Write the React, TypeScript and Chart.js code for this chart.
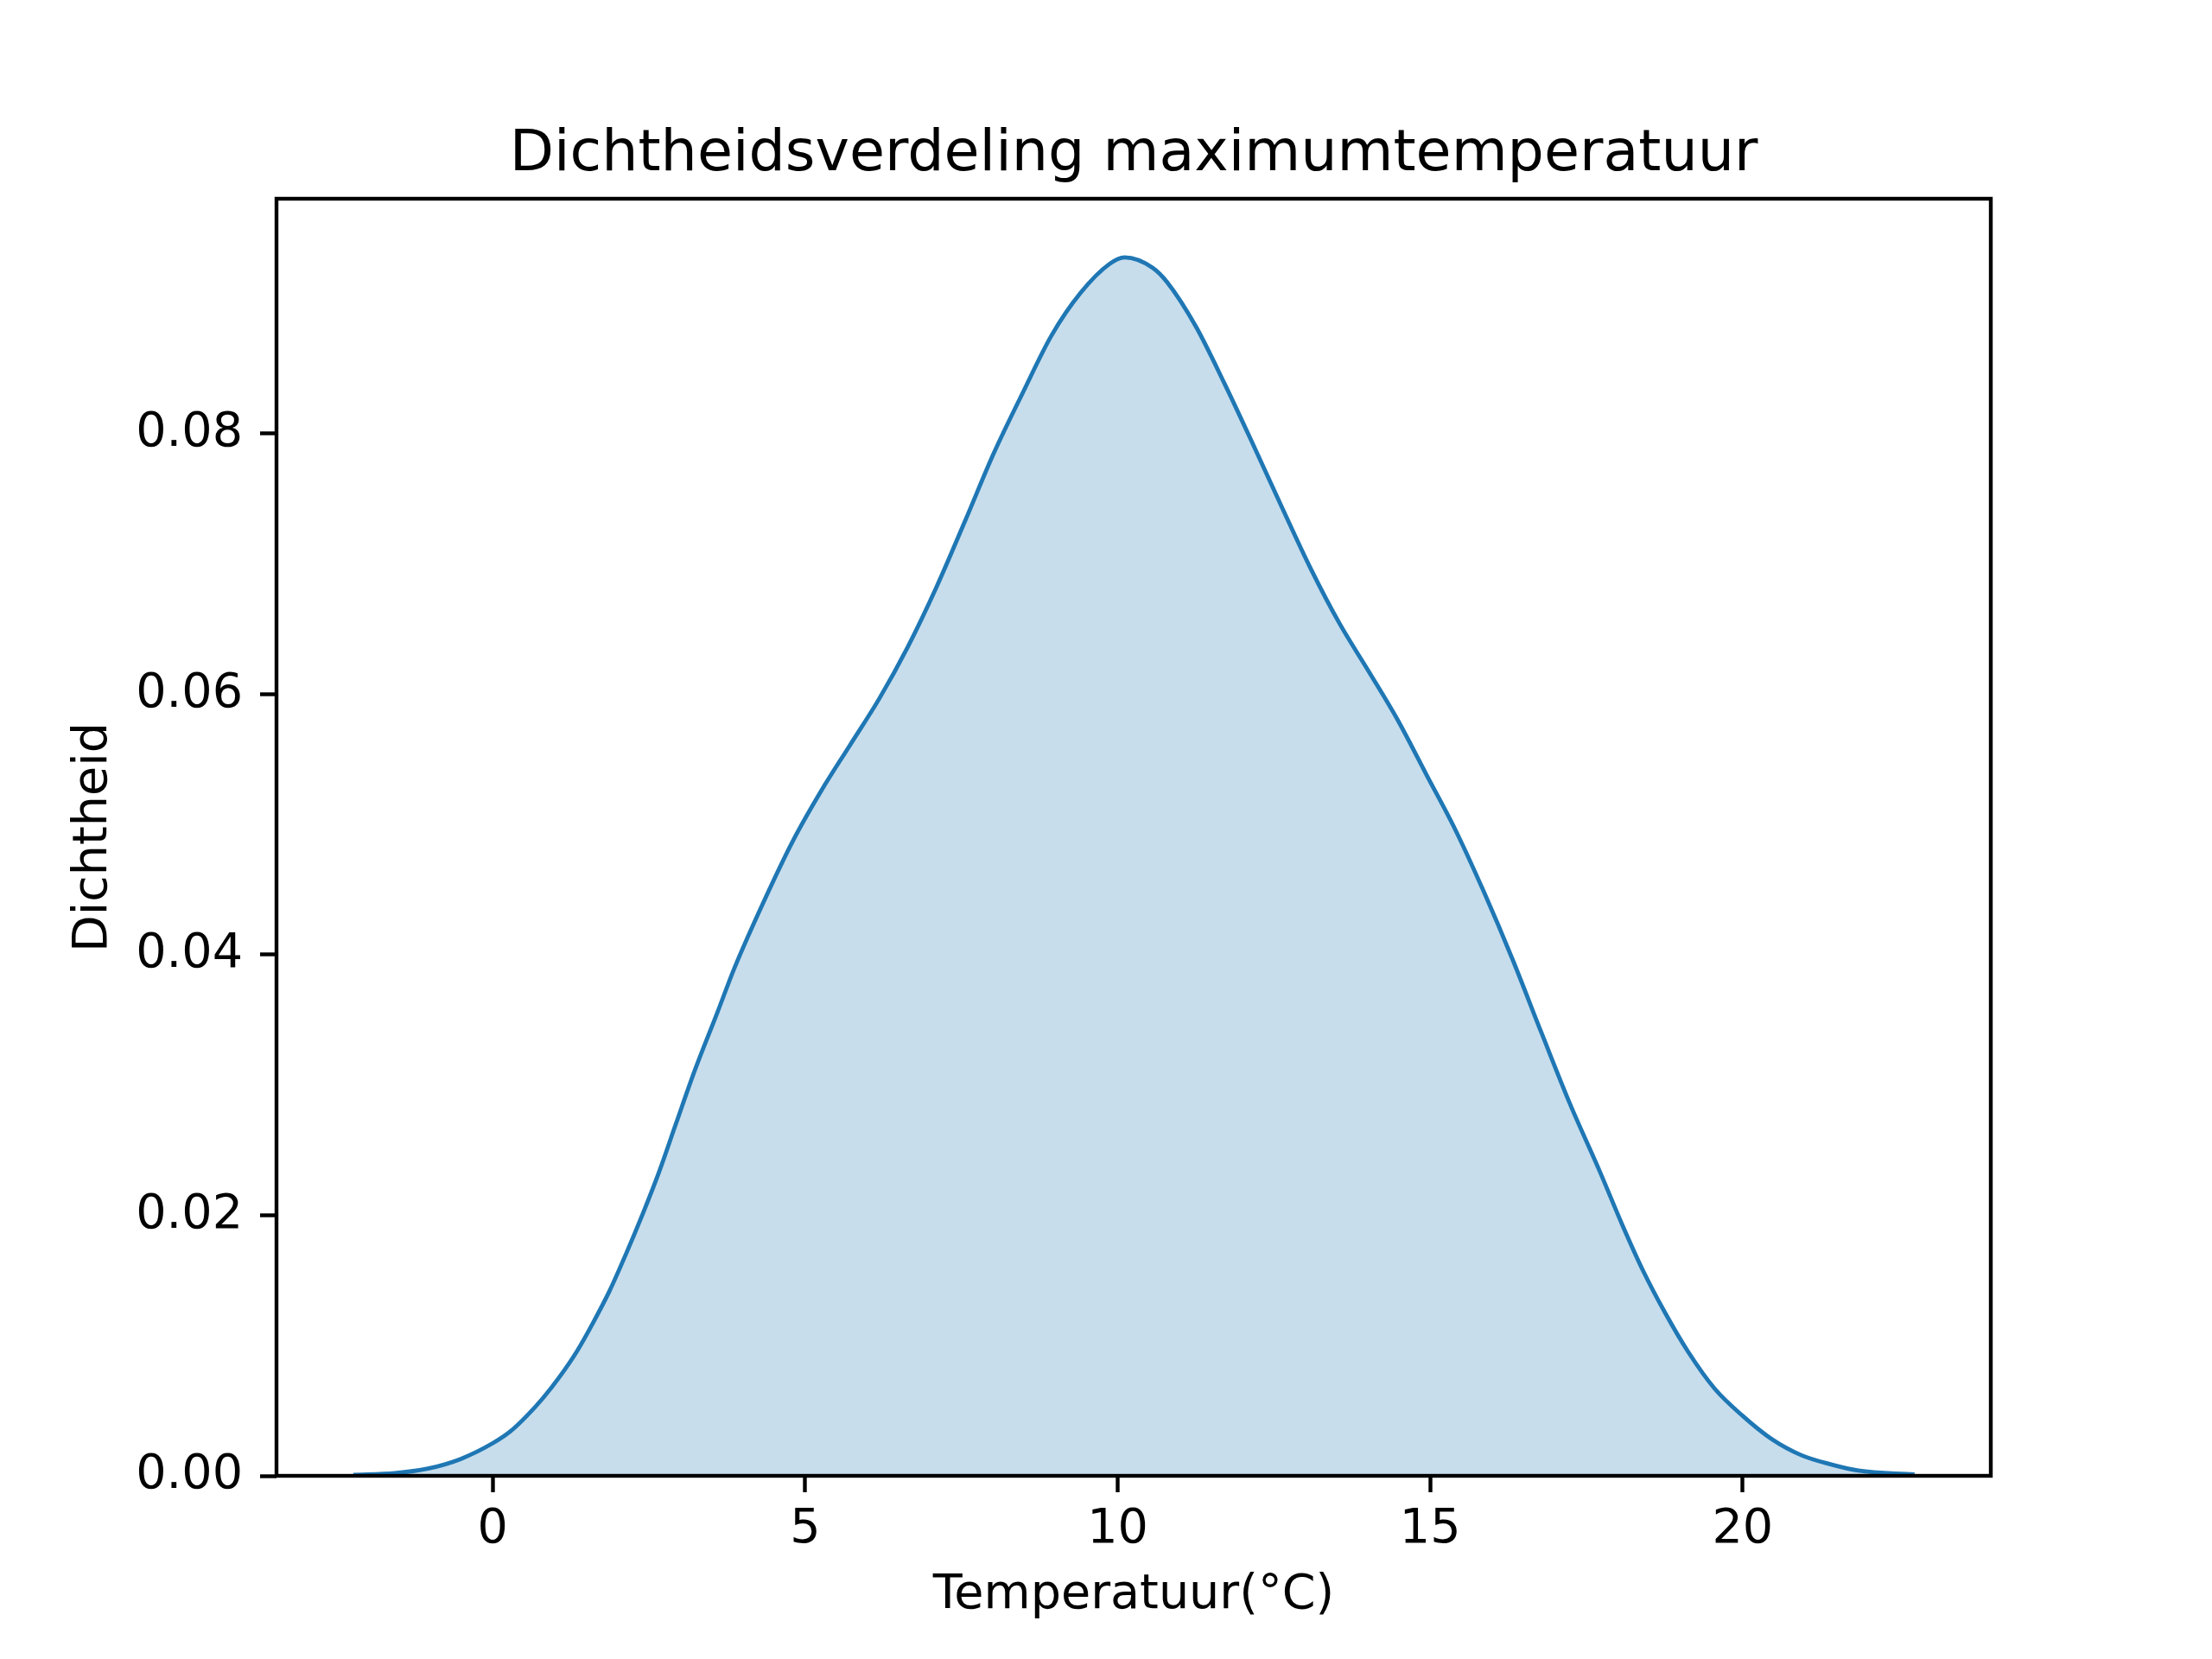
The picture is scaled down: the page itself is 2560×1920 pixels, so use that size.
import React, { useEffect, useRef } from "react";
import { Chart, registerables } from "chart.js";

Chart.register(...registerables);

const chartTitle = "Dichtheidsverdeling maximumtemperatuur";
const xAxisTitle = "Temperatuur(°C)";
const yAxisTitle = "Dichtheid";

const temperatures = [
  -2.23, -1.57, -1.04, -0.51, 0, 0.28, 0.545, 0.81, 1.07, 1.34, 1.6, 1.87, 2.13, 2.4,
  2.66, 2.93, 3.24, 3.59, 3.87, 4.33, 4.8, 5.26, 5.72, 6.18, 6.64, 7.1, 7.56, 8.02,
  8.48, 8.94, 9.41, 9.87, 10.11, 10.56, 10.79, 11.25, 11.71, 12.17, 12.63, 13.09,
  13.55, 14.02, 14.48, 14.94, 15.4, 15.86, 16.32, 16.78, 17.24, 17.71, 18.07, 18.4,
  18.76, 19.13, 19.55, 20.0, 20.47, 20.93, 21.39, 21.85, 22.75,
];
const densities = [
  0.00007, 0.0002, 0.00055, 0.0013, 0.0025, 0.0034, 0.0046, 0.006, 0.0076, 0.0095,
  0.0117, 0.0142, 0.017, 0.0201, 0.0233, 0.027, 0.0312, 0.0355, 0.039, 0.044,
  0.0487, 0.0526, 0.0561, 0.0596, 0.0636, 0.0682, 0.0733, 0.0785, 0.0831, 0.0875,
  0.0908, 0.093, 0.0935, 0.0927, 0.0916, 0.0882, 0.0838, 0.0791, 0.0743, 0.0696,
  0.0654, 0.0617, 0.058, 0.0538, 0.0496, 0.0448, 0.0396, 0.034, 0.0285, 0.0234,
  0.0193, 0.0158, 0.0125, 0.0095, 0.0067, 0.0046, 0.0028, 0.0016, 0.0009, 0.0004,
  0.0001,
];
const xTicks = [0, 5, 10, 15, 20];
const yTicks = [0, 0.02, 0.04, 0.06, 0.08];
const xRange = [-3.46, 23.97];
const yRange = [0, 0.098];

const FONT = "'DejaVu Sans', sans-serif";

export default function App() {
  const ref = useRef<HTMLCanvasElement | null>(null);

  useEffect(() => {
    if (!ref.current) return;
    const framePlugin = {
      id: "frameAndTitle",
      afterDraw(chart: any) {
        const { ctx, chartArea } = chart;
        ctx.save();
        ctx.strokeStyle = "#000";
        ctx.lineWidth = 4.4;
        ctx.strokeRect(
          chartArea.left,
          chartArea.top,
          chartArea.right - chartArea.left,
          chartArea.bottom - chartArea.top
        );
        ctx.fillStyle = "#000";
        ctx.font = `66.7px ${FONT}`;
        ctx.textAlign = "center";
        ctx.textBaseline = "alphabetic";
        ctx.fillText(chartTitle, (chartArea.left + chartArea.right) / 2, 197);
        ctx.restore();
      },
    };

    const chart = new Chart(ref.current, {
      type: "line",
      data: {
        datasets: [
          {
            data: temperatures.map((t, i) => ({ x: t, y: densities[i] })),
            borderColor: "#1f77b4",
            backgroundColor: "rgba(31,119,180,0.25)",
            borderWidth: 4.8,
            fill: "origin",
            pointRadius: 0,
            cubicInterpolationMode: "monotone",
          },
        ],
      },
      options: {
        animation: false,
        responsive: false,
        devicePixelRatio: 1,
        layout: { padding: { top: 230, right: 256, left: 0, bottom: 0 } },
        plugins: { legend: { display: false }, tooltip: { enabled: false }, title: { display: false } },
        scales: {
          x: {
            type: "linear",
            min: xRange[0],
            max: xRange[1],
            afterBuildTicks: (s: any) => {
              s.ticks = xTicks.map((v) => ({ value: v }));
            },
            afterFit: (s: any) => {
              s.height = 212;
            },
            grid: {
              drawOnChartArea: false,
              drawTicks: true,
              tickLength: 19,
              tickWidth: 4.4,
              tickColor: "#000",
            },
            border: { display: false },
            ticks: {
              color: "#000",
              font: { family: FONT, size: 55.6 },
              padding: 10,
              maxRotation: 0,
              autoSkip: false,
              callback: (v: any) => String(v),
            },
            title: {
              display: true,
              text: xAxisTitle,
              color: "#000",
              font: { family: FONT, size: 55.6 },
              padding: { top: 0, bottom: 40 },
            },
          },
          y: {
            type: "linear",
            min: yRange[0],
            max: yRange[1],
            afterBuildTicks: (s: any) => {
              s.ticks = yTicks.map((v) => ({ value: v }));
            },
            afterFit: (s: any) => {
              s.width = 320;
            },
            grid: {
              drawOnChartArea: false,
              drawTicks: true,
              tickLength: 19,
              tickWidth: 4.4,
              tickColor: "#000",
            },
            border: { display: false },
            ticks: {
              color: "#000",
              font: { family: FONT, size: 55.6 },
              padding: 20,
              autoSkip: false,
              callback: (v: any) => Number(v).toFixed(2),
            },
            title: {
              display: true,
              text: yAxisTitle,
              color: "#000",
              font: { family: FONT, size: 55.6 },
              padding: { top: 75, bottom: 0 },
            },
          },
        },
      },
      plugins: [framePlugin],
    });
    return () => chart.destroy();
  }, []);

  return (
    <div style={{ position: "absolute", left: 0, top: 0, width: 2560, height: 1920, background: "#fff" }}>
      <canvas ref={ref} width={2560} height={1920} />
    </div>
  );
}
